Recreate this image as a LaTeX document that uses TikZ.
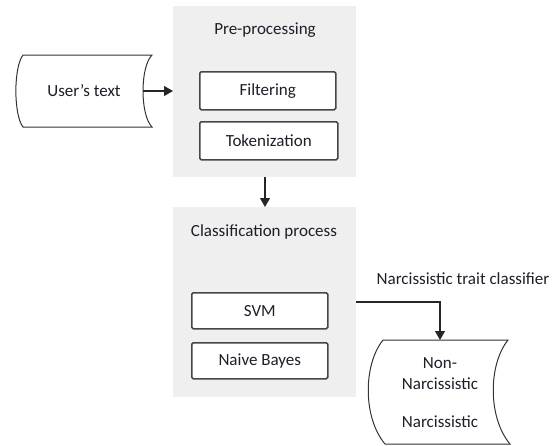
\documentclass[tikz,border=0pt]{standalone}
\usepackage{fontspec}
\setmainfont{Carlito}
\usetikzlibrary{arrows.meta}
\definecolor{panel}{RGB}{239,239,239}
\definecolor{edge}{RGB}{70,70,70}
\definecolor{ink}{RGB}{30,30,40}
\begin{document}
\begin{tikzpicture}[x=1pt,y=-1pt,
  every node/.style={font=\fontsize{17}{20}\selectfont, text=ink, inner sep=0pt},
  panelbox/.style={fill=panel, draw=none, anchor=north west},
  stepbox/.style={draw=edge, line width=1.5pt, rounded corners=1.5pt, fill=white, anchor=north west},
  shapeline/.style={draw=black!80, line width=1pt, fill=white},
  conn/.style={line width=1.1pt, draw=black!85, -{Triangle[length=9pt,width=10pt]}}]
\useasboundingbox (0,0) rectangle (559,445);
% panels
\node[panelbox, minimum width=183pt, minimum height=171pt] (pre) at (173,6) {};
\node[panelbox, minimum width=183pt, minimum height=190pt] (cls) at (173,207) {};
\node (pretitle) at (265,30) {Pre-processing};
\node (clstitle) at (264,232) {Classification process};
% steps
\node[stepbox, minimum width=136pt, minimum height=38pt] (filt) at (199,71) {};
\node at (filt.center) {Filtering};
\node[stepbox, minimum width=138pt, minimum height=38pt] (tok) at (199,121) {};
\node at (tok.center) {Tokenization};
\node[stepbox, minimum width=136pt, minimum height=36pt] (svm) at (191,292) {};
\node at (svm.center) {SVM};
\node[stepbox, minimum width=136pt, minimum height=36pt] (nb) at (191,342) {};
\node at (nb.center) {Naive Bayes};
% user's text (stored data shape)
\coordinate (u1) at (23,55);
\coordinate (u2) at (152,55);
\coordinate (u3) at (152,127);
\coordinate (u4) at (23,127);
\path[shapeline] (u1) -- (u2) .. controls (140,67) and (140,115) .. (u3) -- (u4) .. controls (13.5,115) and (13.5,67) .. (u1) -- cycle;
\node (user) at (84,91) {User's text};
\coordinate (uout) at (143,91);
% output shape
\coordinate (o1) at (383,340);
\coordinate (o2) at (508,340);
\coordinate (o3) at (510,444);
\coordinate (o4) at (385,444);
\path[shapeline] (o1) -- (o2) .. controls (488,365) and (488,418) .. (o3) -- (o4) .. controls (363,418) and (363,365) .. (o1) -- cycle;
\coordinate (otop) at (440,340);
\node (non) at (440,363) {Non-};
\node (narc1) at (440,384) {Narcissistic};
\node (narc2) at (440,422) {Narcissistic};
\node (lbl) at (463,279) {Narcissistic trait classifier};
% connectors
\draw[conn] (uout) -- (uout -| pre.west);
\draw[conn] (pre.south -| 265,0) -- (cls.north -| 265,0);
\draw[conn] (cls.east |- 0,302) -| (otop);
\end{tikzpicture}
\end{document}
